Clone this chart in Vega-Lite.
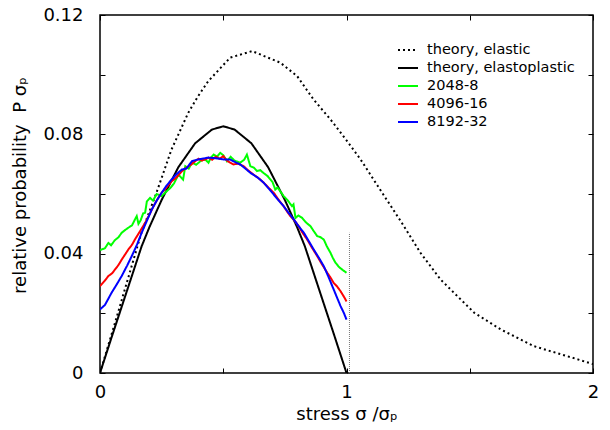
{
  "$schema": "https://vega.github.io/schema/vega-lite/v6.json",
  "width": 493,
  "height": 358,
  "autosize": {"type": "none"},
  "padding": {"left": 100, "top": 15, "right": 17, "bottom": 57},
  "background": "white",
  "config": {
    "font": "DejaVu Sans",
    "view": {"stroke": "black", "strokeWidth": 1.5},
    "axis": {
      "grid": false,
      "domain": false,
      "tickSize": -5,
      "tickColor": "black",
      "tickWidth": 1,
      "labelFontSize": 18,
      "labelColor": "black",
      "titleFontSize": 18,
      "titleColor": "black",
      "titleFontWeight": "normal",
      "labelFlush": false,
      "labelOverlap": false
    },
    "legend": {
      "orient": "none",
      "legendX": 297,
      "legendY": 24,
      "padding": 0,
      "symbolType": "stroke",
      "symbolSize": 400,
      "symbolStrokeWidth": 2,
      "labelFontSize": 14.5,
      "labelColor": "black",
      "labelOffset": 8,
      "rowPadding": -1.3
    }
  },
  "datasets": {
    "curves": [
      {"s": "theory, elastic", "x": 0, "y": 0},
      {"s": "theory, elastic", "x": 0.073, "y": 0.0202},
      {"s": "theory, elastic", "x": 0.168, "y": 0.047},
      {"s": "theory, elastic", "x": 0.229, "y": 0.0604},
      {"s": "theory, elastic", "x": 0.29, "y": 0.0749},
      {"s": "theory, elastic", "x": 0.358, "y": 0.0872},
      {"s": "theory, elastic", "x": 0.398, "y": 0.0928},
      {"s": "theory, elastic", "x": 0.439, "y": 0.0978},
      {"s": "theory, elastic", "x": 0.528, "y": 0.1057},
      {"s": "theory, elastic", "x": 0.617, "y": 0.1079},
      {"s": "theory, elastic", "x": 0.732, "y": 0.104},
      {"s": "theory, elastic", "x": 0.8, "y": 0.0995},
      {"s": "theory, elastic", "x": 0.866, "y": 0.0917},
      {"s": "theory, elastic", "x": 0.935, "y": 0.085},
      {"s": "theory, elastic", "x": 1.0, "y": 0.078},
      {"s": "theory, elastic", "x": 1.057, "y": 0.0716},
      {"s": "theory, elastic", "x": 1.14, "y": 0.061},
      {"s": "theory, elastic", "x": 1.22, "y": 0.0509},
      {"s": "theory, elastic", "x": 1.3, "y": 0.0403},
      {"s": "theory, elastic", "x": 1.382, "y": 0.0313},
      {"s": "theory, elastic", "x": 1.518, "y": 0.0202},
      {"s": "theory, elastic", "x": 1.626, "y": 0.0146},
      {"s": "theory, elastic", "x": 1.76, "y": 0.009},
      {"s": "theory, elastic", "x": 1.897, "y": 0.0056},
      {"s": "theory, elastic", "x": 2.0, "y": 0.003},
      {"s": "theory, elastoplastic", "x": 0, "y": 0},
      {"s": "theory, elastoplastic", "x": 0.05, "y": 0.0127},
      {"s": "theory, elastoplastic", "x": 0.102, "y": 0.0257},
      {"s": "theory, elastoplastic", "x": 0.169, "y": 0.0425},
      {"s": "theory, elastoplastic", "x": 0.2, "y": 0.0488},
      {"s": "theory, elastoplastic", "x": 0.25, "y": 0.058},
      {"s": "theory, elastoplastic", "x": 0.318, "y": 0.069},
      {"s": "theory, elastoplastic", "x": 0.386, "y": 0.077},
      {"s": "theory, elastoplastic", "x": 0.454, "y": 0.0816},
      {"s": "theory, elastoplastic", "x": 0.5, "y": 0.0827},
      {"s": "theory, elastoplastic", "x": 0.546, "y": 0.0816},
      {"s": "theory, elastoplastic", "x": 0.614, "y": 0.077},
      {"s": "theory, elastoplastic", "x": 0.682, "y": 0.069},
      {"s": "theory, elastoplastic", "x": 0.75, "y": 0.058},
      {"s": "theory, elastoplastic", "x": 0.8, "y": 0.0488},
      {"s": "theory, elastoplastic", "x": 0.831, "y": 0.0425},
      {"s": "theory, elastoplastic", "x": 0.898, "y": 0.0257},
      {"s": "theory, elastoplastic", "x": 0.95, "y": 0.0127},
      {"s": "theory, elastoplastic", "x": 1.0, "y": 0},
      {"s": "2048-8", "x": 0.0, "y": 0.0412},
      {"s": "2048-8", "x": 0.02, "y": 0.0418},
      {"s": "2048-8", "x": 0.034, "y": 0.0436},
      {"s": "2048-8", "x": 0.045, "y": 0.0428},
      {"s": "2048-8", "x": 0.06, "y": 0.0445},
      {"s": "2048-8", "x": 0.075, "y": 0.0455},
      {"s": "2048-8", "x": 0.088, "y": 0.047},
      {"s": "2048-8", "x": 0.1, "y": 0.0478},
      {"s": "2048-8", "x": 0.115, "y": 0.0487},
      {"s": "2048-8", "x": 0.13, "y": 0.0495},
      {"s": "2048-8", "x": 0.142, "y": 0.0515},
      {"s": "2048-8", "x": 0.149, "y": 0.0526},
      {"s": "2048-8", "x": 0.156, "y": 0.05},
      {"s": "2048-8", "x": 0.165, "y": 0.0512},
      {"s": "2048-8", "x": 0.175, "y": 0.0535},
      {"s": "2048-8", "x": 0.183, "y": 0.0537},
      {"s": "2048-8", "x": 0.19, "y": 0.0575},
      {"s": "2048-8", "x": 0.203, "y": 0.0587},
      {"s": "2048-8", "x": 0.215, "y": 0.0578},
      {"s": "2048-8", "x": 0.23, "y": 0.06},
      {"s": "2048-8", "x": 0.25, "y": 0.0593},
      {"s": "2048-8", "x": 0.265, "y": 0.0605},
      {"s": "2048-8", "x": 0.285, "y": 0.062},
      {"s": "2048-8", "x": 0.3, "y": 0.0635},
      {"s": "2048-8", "x": 0.318, "y": 0.0665},
      {"s": "2048-8", "x": 0.337, "y": 0.0648},
      {"s": "2048-8", "x": 0.346, "y": 0.0693},
      {"s": "2048-8", "x": 0.36, "y": 0.0685},
      {"s": "2048-8", "x": 0.373, "y": 0.0705},
      {"s": "2048-8", "x": 0.39, "y": 0.0698},
      {"s": "2048-8", "x": 0.41, "y": 0.0712},
      {"s": "2048-8", "x": 0.427, "y": 0.0716},
      {"s": "2048-8", "x": 0.44, "y": 0.0705},
      {"s": "2048-8", "x": 0.45, "y": 0.0722},
      {"s": "2048-8", "x": 0.461, "y": 0.0732},
      {"s": "2048-8", "x": 0.475, "y": 0.0725},
      {"s": "2048-8", "x": 0.488, "y": 0.0738},
      {"s": "2048-8", "x": 0.5, "y": 0.073},
      {"s": "2048-8", "x": 0.515, "y": 0.071},
      {"s": "2048-8", "x": 0.53, "y": 0.0725},
      {"s": "2048-8", "x": 0.545, "y": 0.0712},
      {"s": "2048-8", "x": 0.569, "y": 0.0705},
      {"s": "2048-8", "x": 0.585, "y": 0.0715},
      {"s": "2048-8", "x": 0.596, "y": 0.0732},
      {"s": "2048-8", "x": 0.61, "y": 0.0693},
      {"s": "2048-8", "x": 0.625, "y": 0.0688},
      {"s": "2048-8", "x": 0.637, "y": 0.0677},
      {"s": "2048-8", "x": 0.65, "y": 0.068},
      {"s": "2048-8", "x": 0.664, "y": 0.067},
      {"s": "2048-8", "x": 0.68, "y": 0.066},
      {"s": "2048-8", "x": 0.691, "y": 0.0649},
      {"s": "2048-8", "x": 0.7, "y": 0.064},
      {"s": "2048-8", "x": 0.711, "y": 0.0615},
      {"s": "2048-8", "x": 0.72, "y": 0.0622},
      {"s": "2048-8", "x": 0.735, "y": 0.0605},
      {"s": "2048-8", "x": 0.745, "y": 0.0593},
      {"s": "2048-8", "x": 0.76, "y": 0.058},
      {"s": "2048-8", "x": 0.779, "y": 0.0559},
      {"s": "2048-8", "x": 0.785, "y": 0.0565},
      {"s": "2048-8", "x": 0.793, "y": 0.052},
      {"s": "2048-8", "x": 0.805, "y": 0.0528},
      {"s": "2048-8", "x": 0.82, "y": 0.052},
      {"s": "2048-8", "x": 0.835, "y": 0.0505},
      {"s": "2048-8", "x": 0.854, "y": 0.0492},
      {"s": "2048-8", "x": 0.865, "y": 0.0478},
      {"s": "2048-8", "x": 0.881, "y": 0.0459},
      {"s": "2048-8", "x": 0.895, "y": 0.0455},
      {"s": "2048-8", "x": 0.908, "y": 0.0447},
      {"s": "2048-8", "x": 0.92, "y": 0.0425},
      {"s": "2048-8", "x": 0.935, "y": 0.0403},
      {"s": "2048-8", "x": 0.945, "y": 0.0385},
      {"s": "2048-8", "x": 0.955, "y": 0.037},
      {"s": "2048-8", "x": 0.97, "y": 0.0355},
      {"s": "2048-8", "x": 0.985, "y": 0.0345},
      {"s": "2048-8", "x": 1.0, "y": 0.0336},
      {"s": "4096-16", "x": 0.0, "y": 0.0291},
      {"s": "4096-16", "x": 0.02, "y": 0.031},
      {"s": "4096-16", "x": 0.034, "y": 0.0325},
      {"s": "4096-16", "x": 0.05, "y": 0.0335},
      {"s": "4096-16", "x": 0.061, "y": 0.0347},
      {"s": "4096-16", "x": 0.075, "y": 0.0362},
      {"s": "4096-16", "x": 0.088, "y": 0.038},
      {"s": "4096-16", "x": 0.1, "y": 0.0395},
      {"s": "4096-16", "x": 0.115, "y": 0.0414},
      {"s": "4096-16", "x": 0.13, "y": 0.043},
      {"s": "4096-16", "x": 0.142, "y": 0.0448},
      {"s": "4096-16", "x": 0.16, "y": 0.0472},
      {"s": "4096-16", "x": 0.183, "y": 0.0503},
      {"s": "4096-16", "x": 0.2, "y": 0.053},
      {"s": "4096-16", "x": 0.217, "y": 0.0559},
      {"s": "4096-16", "x": 0.235, "y": 0.0585},
      {"s": "4096-16", "x": 0.25, "y": 0.0604},
      {"s": "4096-16", "x": 0.27, "y": 0.0622},
      {"s": "4096-16", "x": 0.291, "y": 0.0643},
      {"s": "4096-16", "x": 0.31, "y": 0.0655},
      {"s": "4096-16", "x": 0.332, "y": 0.0676},
      {"s": "4096-16", "x": 0.345, "y": 0.0685},
      {"s": "4096-16", "x": 0.359, "y": 0.0693},
      {"s": "4096-16", "x": 0.372, "y": 0.07},
      {"s": "4096-16", "x": 0.386, "y": 0.071},
      {"s": "4096-16", "x": 0.4, "y": 0.0718},
      {"s": "4096-16", "x": 0.413, "y": 0.0712},
      {"s": "4096-16", "x": 0.427, "y": 0.0716},
      {"s": "4096-16", "x": 0.44, "y": 0.0722},
      {"s": "4096-16", "x": 0.455, "y": 0.0715},
      {"s": "4096-16", "x": 0.47, "y": 0.0725},
      {"s": "4096-16", "x": 0.485, "y": 0.0718},
      {"s": "4096-16", "x": 0.5, "y": 0.0727},
      {"s": "4096-16", "x": 0.515, "y": 0.0712},
      {"s": "4096-16", "x": 0.528, "y": 0.0705},
      {"s": "4096-16", "x": 0.542, "y": 0.0699},
      {"s": "4096-16", "x": 0.56, "y": 0.0702},
      {"s": "4096-16", "x": 0.583, "y": 0.0693},
      {"s": "4096-16", "x": 0.6, "y": 0.068},
      {"s": "4096-16", "x": 0.623, "y": 0.0665},
      {"s": "4096-16", "x": 0.645, "y": 0.0652},
      {"s": "4096-16", "x": 0.664, "y": 0.0638},
      {"s": "4096-16", "x": 0.685, "y": 0.062},
      {"s": "4096-16", "x": 0.705, "y": 0.0604},
      {"s": "4096-16", "x": 0.725, "y": 0.058},
      {"s": "4096-16", "x": 0.745, "y": 0.0559},
      {"s": "4096-16", "x": 0.76, "y": 0.054},
      {"s": "4096-16", "x": 0.772, "y": 0.0526},
      {"s": "4096-16", "x": 0.79, "y": 0.051},
      {"s": "4096-16", "x": 0.806, "y": 0.0492},
      {"s": "4096-16", "x": 0.82, "y": 0.0472},
      {"s": "4096-16", "x": 0.84, "y": 0.0448},
      {"s": "4096-16", "x": 0.86, "y": 0.042},
      {"s": "4096-16", "x": 0.881, "y": 0.0392},
      {"s": "4096-16", "x": 0.9, "y": 0.0365},
      {"s": "4096-16", "x": 0.922, "y": 0.0336},
      {"s": "4096-16", "x": 0.935, "y": 0.032},
      {"s": "4096-16", "x": 0.948, "y": 0.0302},
      {"s": "4096-16", "x": 0.962, "y": 0.029},
      {"s": "4096-16", "x": 0.976, "y": 0.0274},
      {"s": "4096-16", "x": 0.99, "y": 0.0255},
      {"s": "4096-16", "x": 1.0, "y": 0.024},
      {"s": "8192-32", "x": 0.0, "y": 0.0213},
      {"s": "8192-32", "x": 0.02, "y": 0.0228},
      {"s": "8192-32", "x": 0.047, "y": 0.0269},
      {"s": "8192-32", "x": 0.065, "y": 0.0293},
      {"s": "8192-32", "x": 0.088, "y": 0.0325},
      {"s": "8192-32", "x": 0.11, "y": 0.036},
      {"s": "8192-32", "x": 0.129, "y": 0.0392},
      {"s": "8192-32", "x": 0.15, "y": 0.043},
      {"s": "8192-32", "x": 0.169, "y": 0.047},
      {"s": "8192-32", "x": 0.19, "y": 0.051},
      {"s": "8192-32", "x": 0.21, "y": 0.0548},
      {"s": "8192-32", "x": 0.23, "y": 0.0578},
      {"s": "8192-32", "x": 0.25, "y": 0.0604},
      {"s": "8192-32", "x": 0.27, "y": 0.0628},
      {"s": "8192-32", "x": 0.291, "y": 0.0649},
      {"s": "8192-32", "x": 0.31, "y": 0.0666},
      {"s": "8192-32", "x": 0.332, "y": 0.0682},
      {"s": "8192-32", "x": 0.35, "y": 0.0685},
      {"s": "8192-32", "x": 0.373, "y": 0.071},
      {"s": "8192-32", "x": 0.393, "y": 0.0715},
      {"s": "8192-32", "x": 0.413, "y": 0.0718},
      {"s": "8192-32", "x": 0.44, "y": 0.0722},
      {"s": "8192-32", "x": 0.47, "y": 0.072},
      {"s": "8192-32", "x": 0.501, "y": 0.0716},
      {"s": "8192-32", "x": 0.528, "y": 0.0716},
      {"s": "8192-32", "x": 0.55, "y": 0.0706},
      {"s": "8192-32", "x": 0.569, "y": 0.0699},
      {"s": "8192-32", "x": 0.59, "y": 0.0685},
      {"s": "8192-32", "x": 0.61, "y": 0.0671},
      {"s": "8192-32", "x": 0.64, "y": 0.0655},
      {"s": "8192-32", "x": 0.664, "y": 0.0638},
      {"s": "8192-32", "x": 0.685, "y": 0.0618},
      {"s": "8192-32", "x": 0.705, "y": 0.0598},
      {"s": "8192-32", "x": 0.725, "y": 0.0578},
      {"s": "8192-32", "x": 0.745, "y": 0.0559},
      {"s": "8192-32", "x": 0.765, "y": 0.0537},
      {"s": "8192-32", "x": 0.786, "y": 0.0515},
      {"s": "8192-32", "x": 0.805, "y": 0.0493},
      {"s": "8192-32", "x": 0.827, "y": 0.047},
      {"s": "8192-32", "x": 0.847, "y": 0.0442},
      {"s": "8192-32", "x": 0.867, "y": 0.0414},
      {"s": "8192-32", "x": 0.888, "y": 0.0386},
      {"s": "8192-32", "x": 0.908, "y": 0.0358},
      {"s": "8192-32", "x": 0.928, "y": 0.032},
      {"s": "8192-32", "x": 0.948, "y": 0.028},
      {"s": "8192-32", "x": 0.962, "y": 0.0252},
      {"s": "8192-32", "x": 0.976, "y": 0.0224},
      {"s": "8192-32", "x": 0.99, "y": 0.02},
      {"s": "8192-32", "x": 1.0, "y": 0.0179}
    ],
    "vline": [{"x": 1.012, "y": 0, "y2": 0.047}]
  },
  "layer": [
    {
      "data": {"name": "curves"},
      "mark": {"type": "line", "strokeWidth": 2, "clip": true},
      "encoding": {
        "x": {
          "field": "x", "type": "quantitative",
          "scale": {"domain": [0, 2], "nice": false},
          "axis": {
            "orient": "bottom",
            "values": [0, 0.5, 1, 1.5, 2],
            "labelExpr": "datum.value % 1 === 0 ? '' + datum.value : ''",
            "labelPadding": 15,
            "title": "stress σ /σₚ",
            "titlePadding": 4
          }
        },
        "y": {
          "field": "y", "type": "quantitative",
          "scale": {"domain": [0, 0.12], "nice": false},
          "axis": {
            "orient": "left",
            "values": [0, 0.02, 0.04, 0.06, 0.08, 0.1, 0.12],
            "labelExpr": "datum.value === 0 ? '0' : (indexof([0.04, 0.08, 0.12], datum.value) >= 0 ? format(datum.value, '.2f') : '')",
            "labelPadding": 22,
            "title": "relative probability\u00a0\u00a0P σₚ",
            "titlePadding": 13,
            "titleY": 170
          }
        },
        "color": {
          "field": "s", "type": "nominal",
          "scale": {
            "domain": ["theory, elastic", "theory, elastoplastic", "2048-8", "4096-16", "8192-32"],
            "range": ["#000000", "#000000", "#00ff00", "#ff0000", "#0000ff"]
          },
          "legend": {"title": null}
        },
        "strokeDash": {
          "field": "s", "type": "nominal",
          "scale": {
            "domain": ["theory, elastic", "theory, elastoplastic", "2048-8", "4096-16", "8192-32"],
            "range": [[2, 3], [1, 0], [1, 0], [1, 0], [1, 0]]
          },
          "legend": {"title": null}
        }
      }
    },
    {
      "data": {"name": "vline"},
      "mark": {"type": "rule", "color": "#777777", "strokeWidth": 1, "strokeDash": [1, 1]},
      "encoding": {
        "x": {
          "field": "x", "type": "quantitative",
          "axis": {"orient": "top", "values": [0, 0.5, 1, 1.5, 2], "labels": false, "title": null}
        },
        "y": {
          "field": "y", "type": "quantitative",
          "axis": {"orient": "right", "values": [0, 0.02, 0.04, 0.06, 0.08, 0.1, 0.12], "labels": false, "title": null}
        },
        "y2": {"field": "y2"}
      }
    }
  ],
  "resolve": {"axis": {"x": "independent", "y": "independent"}}
}
